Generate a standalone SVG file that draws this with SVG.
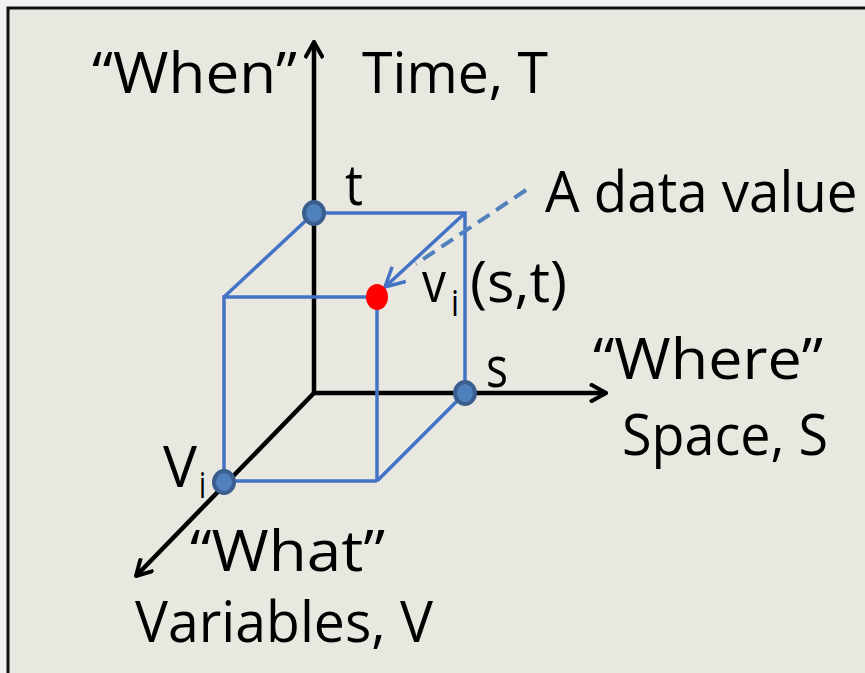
<svg xmlns="http://www.w3.org/2000/svg" width="865" height="673" viewBox="0 0 865 673">
<defs>
<style>
.lbl{font-family:"Open Sans","Liberation Sans",sans-serif;font-size:57px;fill:#000}
.sub{font-family:"Open Sans","Liberation Sans",sans-serif;font-size:36px;fill:#000}
.axis{stroke:#000;stroke-width:4.5;fill:none}
.edge{stroke:#4472C4;stroke-width:3.5;fill:none}
.dot{fill:#4F81BD;stroke:#3A5F8F;stroke-width:4}
</style>
<marker id="ah" viewBox="0 0 20 20" refX="18" refY="10" markerWidth="20" markerHeight="20" markerUnits="userSpaceOnUse" orient="auto">
<path d="M2,1 L18,10 L2,19" fill="none" stroke="#000" stroke-width="4"/>
</marker>
<marker id="bh" viewBox="0 0 24 24" refX="22" refY="12" markerWidth="24" markerHeight="24" markerUnits="userSpaceOnUse" orient="auto">
<path d="M3,2 L22,12 L3,22" fill="none" stroke="#4472C4" stroke-width="3.5"/>
</marker>
</defs>
<rect x="0" y="0" width="865" height="673" fill="#F2F2F2"/>
<rect x="8" y="8" width="880" height="700" fill="#E8E8E0" stroke="#111" stroke-width="3"/>
<g id="connectors">
<line class="axis" x1="314" y1="395" x2="314" y2="42" marker-end="url(#ah)"/>
<line class="axis" x1="312" y1="393" x2="606" y2="393" marker-end="url(#ah)"/>
<line class="axis" x1="314" y1="393" x2="136" y2="576" marker-end="url(#ah)"/>
<polyline class="edge" points="224,481 224,297 377,297"/>
<line class="edge" x1="224" y1="481" x2="377" y2="481"/>
<line class="edge" x1="377" y1="297" x2="377" y2="481"/>
<line class="edge" x1="224" y1="297" x2="314" y2="213"/>
<polyline class="edge" points="314,213 465,213 465,393"/>
<line class="edge" x1="377" y1="481" x2="465" y2="393"/>
<line class="edge" x1="465" y1="213" x2="385" y2="287" marker-end="url(#bh)"/>
<line x1="526" y1="190" x2="416" y2="264" stroke="#4F81BD" stroke-width="4" stroke-dasharray="14,8"/>
</g>
<g id="node-t"><ellipse class="dot" cx="314" cy="213" rx="10" ry="11"/></g>
<g id="node-s"><ellipse class="dot" cx="465" cy="393" rx="10" ry="11"/></g>
<g id="node-vi"><ellipse class="dot" cx="224" cy="482" rx="10" ry="11"/></g>
<g id="node-value"><ellipse cx="377" cy="297" rx="11" ry="13" fill="#FF0000"/></g>
<g id="labels">
<text class="lbl" x="92" y="93" textLength="205" lengthAdjust="spacingAndGlyphs">“When”</text>
<text class="lbl" x="362" y="93" textLength="186" lengthAdjust="spacingAndGlyphs">Time, T</text>
<text class="lbl" x="345" y="205" textLength="18" lengthAdjust="spacingAndGlyphs">t</text>
<text class="lbl" transform="translate(545 212) scale(0.96 1)" x="0" y="0">A data value</text>
<text class="lbl" x="422" y="302" textLength="24" lengthAdjust="spacingAndGlyphs">v</text>
<text class="sub" x="451" y="316" textLength="8" lengthAdjust="spacingAndGlyphs">i</text>
<text class="lbl" x="470" y="302" textLength="97" lengthAdjust="spacingAndGlyphs">(s,t)</text>
<text class="lbl" x="486" y="387" textLength="22" lengthAdjust="spacingAndGlyphs">s</text>
<text class="lbl" x="593" y="379" textLength="230" lengthAdjust="spacingAndGlyphs">“Where”</text>
<text class="lbl" x="622" y="455" textLength="206" lengthAdjust="spacingAndGlyphs">Space, S</text>
<text class="lbl" x="163" y="487" textLength="34" lengthAdjust="spacingAndGlyphs">V</text>
<text class="sub" x="199" y="498" textLength="7" lengthAdjust="spacingAndGlyphs">i</text>
<text class="lbl" x="190" y="571" textLength="195" lengthAdjust="spacingAndGlyphs">“What”</text>
<text class="lbl" x="135" y="642" textLength="298" lengthAdjust="spacingAndGlyphs">Variables, V</text>
</g>
</svg>
